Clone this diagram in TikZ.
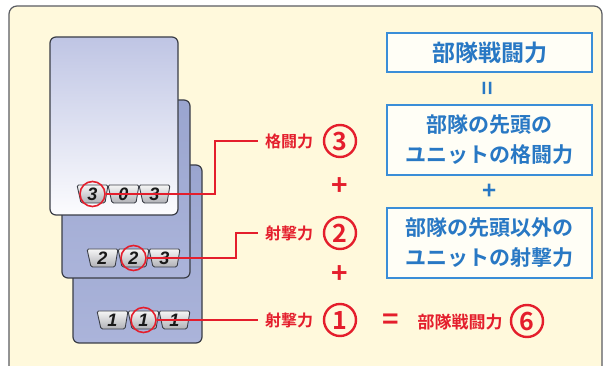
\documentclass[tikz,border=0pt]{standalone}
\usepackage{fontspec}
\newfontfamily\jpfont{Noto Sans CJK JP}[BoldFont={Noto Sans CJK JP Bold}]
\newfontfamily\platefont{Liberation Sans}
\usetikzlibrary{calc,positioning}
\definecolor{SheetCream}{HTML}{FFF9DC}
\definecolor{FrameGray}{HTML}{5A5C62}
\definecolor{CardEdge}{HTML}{3A3D46}
\definecolor{CardBlue}{HTML}{9AA5CF}
\definecolor{CardBlueLight}{HTML}{ABB4DA}
\definecolor{CardTop}{HTML}{BFC5E4}
\definecolor{CardMid}{HTML}{DADEF0}
\definecolor{CardBottom}{HTML}{FCFCFE}
\definecolor{PlateLight}{HTML}{F6F6F6}
\definecolor{PlateDark}{HTML}{B0B1B6}
\definecolor{MarkRed}{HTML}{E41E2C}
\definecolor{BoxBlue}{HTML}{3A8ED8}
\definecolor{TextBlue}{HTML}{2878C4}
\definecolor{BoxFill}{HTML}{FFFEF6}

\tikzset{
  card/.style={draw=CardEdge,line width=1.2pt,rounded corners=6pt},
  plate/.style={draw=CardEdge,line width=0.9pt,rounded corners=1.5pt,
    top color=PlateLight,bottom color=PlateDark},
  platedigit/.style={text=black!90,inner sep=0pt,
    font=\platefont\bfseries\itshape\fontsize{18}{18}\selectfont},
  ring/.style={circle,draw=MarkRed,line width=1.6pt,minimum size=25pt,inner sep=0pt},
  lead/.style={MarkRed,line width=1.5pt},
  redlabel/.style={text=MarkRed,inner sep=0pt,
    font=\jpfont\bfseries\fontsize{16}{16}\selectfont},
  circnum/.style={circle,draw=MarkRed,line width=2.4pt,minimum size=32pt,inner sep=0pt,
    text=MarkRed,font=\jpfont\bfseries\fontsize{25}{25}\selectfont},
  redsign/.style={text=MarkRed,inner sep=0pt,
    font=\jpfont\bfseries\fontsize{28}{28}\selectfont},
  sumbox/.style={draw=BoxBlue,line width=2pt,fill=BoxFill,minimum width=205pt,
    align=center,inner sep=0pt,text=TextBlue,
    font=\jpfont\bfseries\fontsize{21}{30}\selectfont},
  bluesign/.style={text=TextBlue,inner sep=0pt,
    font=\jpfont\bfseries\fontsize{24}{24}\selectfont}
}

% row of three number plates: left x, centre y, digits
\newcommand{\platerow}[5]{%
  \foreach \d [count=\i from 0] in {#3,#4,#5} {
    \path[plate] (#1+\i*31,#2-9) -- ++(31,0) -- ++(-3,18) -- ++(-24,0) -- cycle;
    \node[platedigit] at (#1+\i*31+15.5,#2+0.5) {\d};
  }}

\begin{document}
\begin{tikzpicture}[x=1pt,y=-1pt]

        \useasboundingbox (0,0) rectangle (606,366);

        \clip (0,0) rectangle (606,366);

        \fill[white] (0,0) rectangle (606,366);

        \draw[FrameGray,fill=SheetCream,line width=1.2pt,rounded corners=8pt]
          (9,6) rectangle (602,390);

        \path[card,top color=CardBlue,bottom color=CardBlueLight]
          (73,165) rectangle (202,343);

        \path[card,top color=CardBlue,bottom color=CardBlueLight]
          (62,100) rectangle (190,278);

        \path[card,top color=CardTop,middle color=CardMid,bottom color=CardBottom]
          (50,37) rectangle (178,215);

        \platerow{77}{194}{3}{0}{3}

        \platerow{87}{258}{2}{2}{3}

        \platerow{97}{320}{1}{1}{1}

        \node[ring] (p3) at (92.5,194) {};

        \node[ring] (p2) at (133.5,258) {};

        \node[ring] (p1) at (143.5,320) {};

        \node[redlabel] (l3) at (289,141) {格闘力};

        \node[redlabel] (l2) at (289,233) {射撃力};

        \node[redlabel] (l1) at (289,320) {射撃力};

        \node[circnum] (c3) at (340,141) {3};

        \node[circnum] (c2) at (340,233) {2};

        \node[circnum] (c1) at (340,320) {1};

        \node[redsign] (plusA) at (340,187) {+};

        \node[redsign] (plusB) at (340,275) {+};

        \coordinate (k3) at (215,0);

        \coordinate (k2) at (236,0);

        \draw[lead] (p3.east) -- (p3.east -| k3) |- ([xshift=-7pt]l3.west);

        \draw[lead] (p2.east) -- (p2.east -| k2) |- ([xshift=-7pt]l2.west);

        \draw[lead] (p1.east) -- ([xshift=-7pt]l1.west);

        \node[redsign] (eq) at (391,322) {=};

        \node[redlabel,font=\jpfont\bfseries\fontsize{17}{17}\selectfont]
          (total) at (460,322) {部隊戦闘力};

        \node[circnum] (c6) at (527,321) {6};

        \node[sumbox,minimum height=39pt,font=\jpfont\bfseries\fontsize{23}{30}\selectfont]
          (power) at (489.5,52.5) {部隊戦闘力};

        \node[bluesign,rotate=90] (same) at (489.5,88) {=};

        \node[sumbox,minimum height=70pt] (lead unit) at (489.5,140)
          {部隊の先頭の\\ユニットの格闘力};

        \node[bluesign] (plusC) at (489.5,192) {+};

        \node[sumbox,minimum height=70pt] (rest units) at (489.5,243)
          {部隊の先頭以外の\\ユニットの射撃力};

      \end{tikzpicture}
\end{document}
